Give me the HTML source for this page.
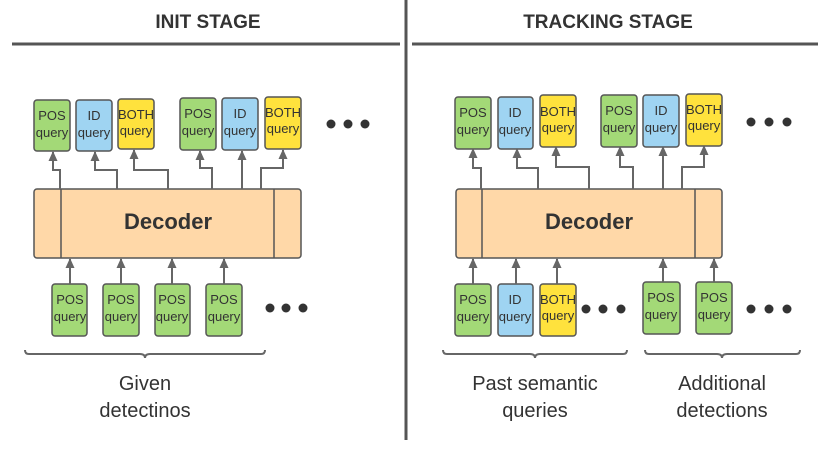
<!DOCTYPE html>
<html><head><style>
html,body{margin:0;padding:0;background:#fff;}
svg{display:block;font-family:"Liberation Sans",sans-serif;}
.q{stroke:#555;stroke-width:1.5;}
.t{font-size:13px;fill:#333;text-anchor:middle;}
.w{fill:none;stroke:#666;stroke-width:2;}
.big{font-size:20px;fill:#333;text-anchor:middle;}
</style></head><body>
<svg width="830" height="464" viewBox="0 0 830 464">
<defs><marker id="a" markerWidth="10" markerHeight="10" refX="9" refY="4.5" orient="auto" markerUnits="userSpaceOnUse"><path d="M0,0 L10,4.5 L0,9 Z" fill="#666"/></marker></defs>
<line x1="406" y1="0" x2="406" y2="440" stroke="#555" stroke-width="3"/>
<line x1="12" y1="44" x2="400" y2="44" stroke="#555" stroke-width="3"/>
<line x1="412" y1="44" x2="818" y2="44" stroke="#555" stroke-width="3"/>
<text x="208" y="28" font-size="19" font-weight="bold" fill="#333" text-anchor="middle">INIT STAGE</text>
<text x="608" y="28" font-size="19" font-weight="bold" fill="#333" text-anchor="middle">TRACKING STAGE</text>

<rect class="q" x="34" y="100" width="36" height="51" rx="3" fill="#a3d977"/>
<rect class="q" x="76" y="100" width="36" height="51" rx="3" fill="#9fd4f2"/>
<rect class="q" x="118" y="99" width="36" height="50" rx="3" fill="#ffe23d"/>
<rect class="q" x="180" y="98" width="36" height="52" rx="3" fill="#a3d977"/>
<rect class="q" x="222" y="98" width="36" height="52" rx="3" fill="#9fd4f2"/>
<rect class="q" x="265" y="97" width="36" height="52" rx="3" fill="#ffe23d"/>
<text class="t" x="52" y="120">POS</text><text class="t" x="52" y="137">query</text>
<text class="t" x="94" y="120">ID</text><text class="t" x="94" y="137">query</text>
<text class="t" x="136" y="119" font-size="12">BOTH</text><text class="t" x="136" y="135">query</text>
<text class="t" x="198" y="118">POS</text><text class="t" x="198" y="135">query</text>
<text class="t" x="240" y="118">ID</text><text class="t" x="240" y="135">query</text>
<text class="t" x="283" y="117" font-size="12">BOTH</text><text class="t" x="283" y="133">query</text>
<g fill="#333"><circle cx="331" cy="124" r="4.5"/><circle cx="348" cy="124" r="4.5"/><circle cx="365" cy="124" r="4.5"/></g>
<rect class="q" x="34" y="189" width="267" height="69" rx="3" fill="#ffd8a8"/>
<line class="q" x1="61" y1="189" x2="61" y2="258"/><line class="q" x1="274" y1="189" x2="274" y2="258"/>
<text x="168" y="229" font-size="22" font-weight="bold" fill="#333" text-anchor="middle">Decoder</text>
<path class="w" marker-end="url(#a)" d="M60,189 V170 H53 V152"/>
<path class="w" marker-end="url(#a)" d="M117,189 V170 H95 V152"/>
<path class="w" marker-end="url(#a)" d="M168,189 V170 H134 V150"/>
<path class="w" marker-end="url(#a)" d="M212,189 V168 H200 V151"/>
<path class="w" marker-end="url(#a)" d="M242,189 V151"/>
<path class="w" marker-end="url(#a)" d="M261,189 V168 H283 V150"/>
<rect class="q" x="52" y="284" width="35" height="52" rx="3" fill="#a3d977"/>
<rect class="q" x="103" y="284" width="36" height="52" rx="3" fill="#a3d977"/>
<rect class="q" x="155" y="284" width="35" height="52" rx="3" fill="#a3d977"/>
<rect class="q" x="206" y="284" width="36" height="52" rx="3" fill="#a3d977"/>
<text class="t" x="70" y="304">POS</text><text class="t" x="70" y="321">query</text>
<text class="t" x="121" y="304">POS</text><text class="t" x="121" y="321">query</text>
<text class="t" x="172" y="304">POS</text><text class="t" x="172" y="321">query</text>
<text class="t" x="224" y="304">POS</text><text class="t" x="224" y="321">query</text>
<path class="w" marker-end="url(#a)" d="M70,284 V259"/>
<path class="w" marker-end="url(#a)" d="M121,284 V259"/>
<path class="w" marker-end="url(#a)" d="M172,284 V259"/>
<path class="w" marker-end="url(#a)" d="M224,284 V259"/>
<g fill="#333"><circle cx="270" cy="308" r="4.5"/><circle cx="286" cy="308" r="4.5"/><circle cx="303" cy="308" r="4.5"/></g>
<path class="w" stroke-width="1.5" d="M25,350 Q25,354 29,354 H140 Q145,354 145,358 Q145,354 150,354 H261 Q265,354 265,350"/>
<text class="big" x="145" y="390">Given</text><text class="big" x="145" y="417">detectinos</text>

<rect class="q" x="455" y="97" width="36" height="52" rx="3" fill="#a3d977"/>
<rect class="q" x="498" y="97" width="35" height="52" rx="3" fill="#9fd4f2"/>
<rect class="q" x="540" y="95" width="36" height="52" rx="3" fill="#ffe23d"/>
<rect class="q" x="601" y="95" width="36" height="52" rx="3" fill="#a3d977"/>
<rect class="q" x="643" y="95" width="36" height="52" rx="3" fill="#9fd4f2"/>
<rect class="q" x="686" y="94" width="36" height="52" rx="3" fill="#ffe23d"/>
<text class="t" x="473" y="117">POS</text><text class="t" x="473" y="134">query</text>
<text class="t" x="515" y="117">ID</text><text class="t" x="515" y="134">query</text>
<text class="t" x="558" y="116" font-size="12">BOTH</text><text class="t" x="558" y="132">query</text>
<text class="t" x="619" y="115">POS</text><text class="t" x="619" y="132">query</text>
<text class="t" x="661" y="115">ID</text><text class="t" x="661" y="132">query</text>
<text class="t" x="704" y="114" font-size="12">BOTH</text><text class="t" x="704" y="130">query</text>
<g fill="#333"><circle cx="751" cy="122" r="4.5"/><circle cx="769" cy="122" r="4.5"/><circle cx="787" cy="122" r="4.5"/></g>
<rect class="q" x="456" y="189" width="266" height="69" rx="3" fill="#ffd8a8"/>
<line class="q" x1="482" y1="189" x2="482" y2="258"/><line class="q" x1="695" y1="189" x2="695" y2="258"/>
<text x="589" y="229" font-size="22" font-weight="bold" fill="#333" text-anchor="middle">Decoder</text>
<path class="w" marker-end="url(#a)" d="M481,189 V168 H473 V149"/>
<path class="w" marker-end="url(#a)" d="M538,189 V168 H517 V149"/>
<path class="w" marker-end="url(#a)" d="M589,189 V167 H556 V147"/>
<path class="w" marker-end="url(#a)" d="M633,189 V167 H620 V147"/>
<path class="w" marker-end="url(#a)" d="M663,189 V147"/>
<path class="w" marker-end="url(#a)" d="M682,189 V167 H704 V146"/>
<rect class="q" x="455" y="284" width="36" height="52" rx="3" fill="#a3d977"/>
<rect class="q" x="498" y="284" width="35" height="52" rx="3" fill="#9fd4f2"/>
<rect class="q" x="540" y="284" width="36" height="52" rx="3" fill="#ffe23d"/>
<rect class="q" x="643" y="282" width="37" height="52" rx="3" fill="#a3d977"/>
<rect class="q" x="696" y="282" width="36" height="52" rx="3" fill="#a3d977"/>
<text class="t" x="473" y="304">POS</text><text class="t" x="473" y="321">query</text>
<text class="t" x="515" y="304">ID</text><text class="t" x="515" y="321">query</text>
<text class="t" x="558" y="304" font-size="12">BOTH</text><text class="t" x="558" y="320">query</text>
<text class="t" x="661" y="302">POS</text><text class="t" x="661" y="319">query</text>
<text class="t" x="714" y="302">POS</text><text class="t" x="714" y="319">query</text>
<path class="w" marker-end="url(#a)" d="M473,284 V259"/>
<path class="w" marker-end="url(#a)" d="M516,284 V259"/>
<path class="w" marker-end="url(#a)" d="M557,284 V259"/>
<path class="w" marker-end="url(#a)" d="M663,282 V259"/>
<path class="w" marker-end="url(#a)" d="M714,282 V259"/>
<g fill="#333"><circle cx="586" cy="309" r="4.5"/><circle cx="603" cy="309" r="4.5"/><circle cx="621" cy="309" r="4.5"/>
<circle cx="751" cy="309" r="4.5"/><circle cx="769" cy="309" r="4.5"/><circle cx="787" cy="309" r="4.5"/></g>
<path class="w" stroke-width="1.5" d="M443,350 Q443,354 447,354 H530 Q535,354 535,358 Q535,354 540,354 H623 Q627,354 627,350"/>
<path class="w" stroke-width="1.5" d="M645,350 Q645,354 649,354 H717 Q722,354 722,358 Q722,354 727,354 H796 Q800,354 800,350"/>
<text class="big" x="535" y="390">Past semantic</text><text class="big" x="535" y="417">queries</text>
<text class="big" x="722" y="390">Additional</text><text class="big" x="722" y="417">detections</text>
</svg>
</body></html>
